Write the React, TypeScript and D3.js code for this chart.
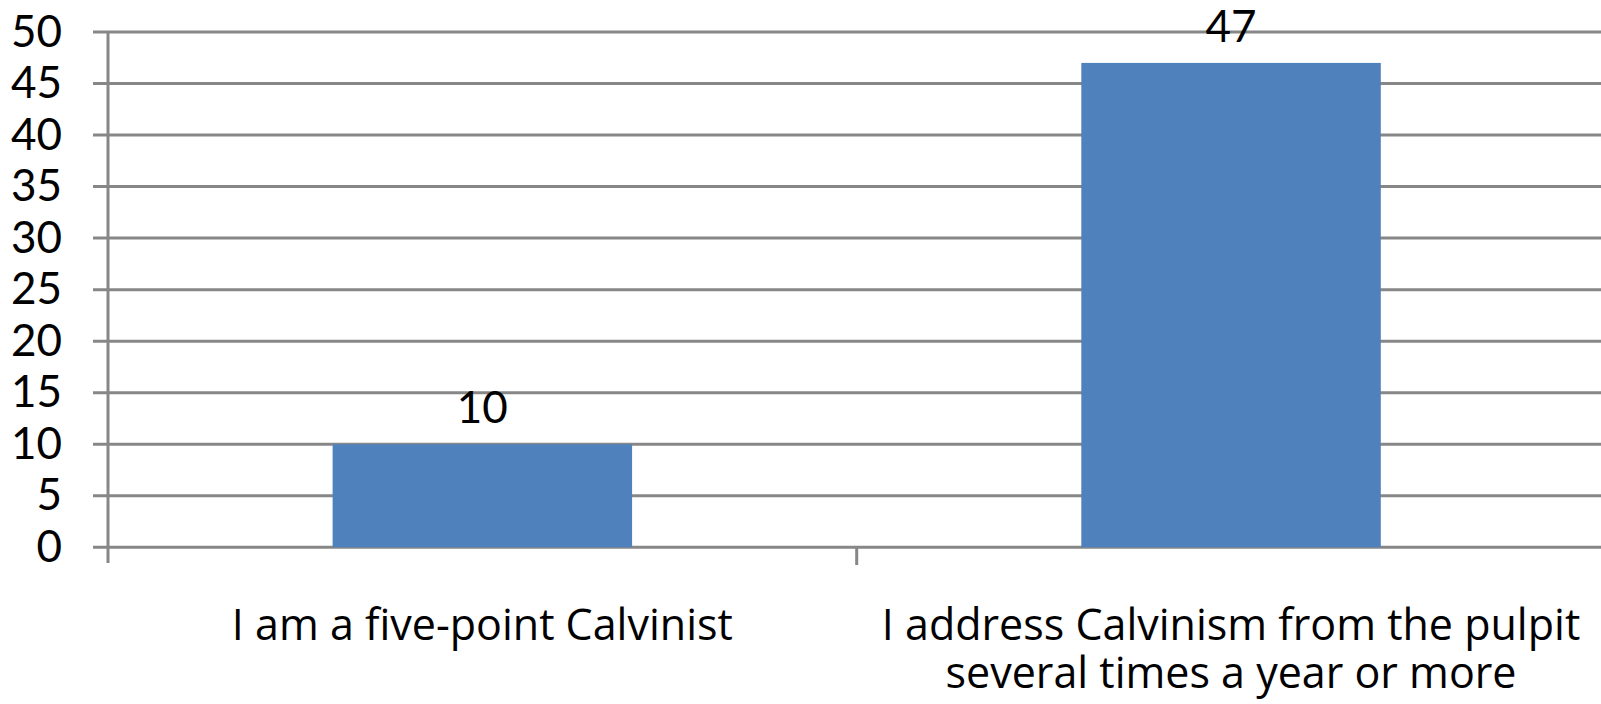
import React from "react";
import * as d3 from "d3";

const categories: string[] = [
  "I am a five-point Calvinist",
  "I address Calvinism from the pulpit several times a year or more",
];
const categoryLines: string[][] = [
  ["I am a five-point Calvinist"],
  ["I address Calvinism from the pulpit", "several times a year or more"],
];
const values: number[] = [10, 47];
const yTicks: number[] = [0, 5, 10, 15, 20, 25, 30, 35, 40, 45, 50];

const W = 1601;
const H = 704;
const FONT = "Lato, 'Open Sans', sans-serif";
const CAT_FONT = "'Open Sans', Lato, sans-serif";

export default function App() {
  const y = d3.scaleLinear().domain([0, 50]).range([547.3, 32]);
  const x = d3
    .scaleBand<string>()
    .domain(categories)
    .range([108, 1605.4])
    .paddingInner(0.6)
    .paddingOuter(0.3);
  const step = x.step();
  const grid = "#878787";
  const boundaries = categories.map((c) => (x(c) as number) - x.paddingOuter() * step);

  return (
    <svg
      width={W}
      height={H}
      style={{ position: "absolute", left: 0, top: 0, background: "#fff" }}
    >
      {yTicks.map((t) => (
        <line key={"g" + t} x1={93} x2={W} y1={y(t)} y2={y(t)} stroke={grid} strokeWidth={3} />
      ))}
      {yTicks.map((t) => (
        <text
          key={"t" + t}
          x={62}
          y={y(t)}
          dy="0.33em"
          textAnchor="end"
          fontFamily={FONT}
          fontSize={44}
          fill="#000"
        >
          {t}
        </text>
      ))}
      {categories.map((c, i) => (
        <rect
          key={"b" + i}
          x={x(c)}
          y={y(values[i])}
          width={x.bandwidth()}
          height={y(0) - y(values[i])}
          fill="#4F81BD"
        />
      ))}
      <line x1={108} x2={108} y1={y(50)} y2={563} stroke={grid} strokeWidth={3} />
      {boundaries.slice(1).map((bx, i) => (
        <line key={"ct" + i} x1={bx} x2={bx} y1={y(0)} y2={565} stroke={grid} strokeWidth={3} />
      ))}
      {categories.map((c, i) => (
        <text
          key={"v" + i}
          x={(x(c) as number) + x.bandwidth() / 2}
          y={y(values[i]) - 21}
          textAnchor="middle"
          fontFamily={FONT}
          fontSize={44}
          fill="#000"
        >
          {values[i]}
        </text>
      ))}
      {categories.map((c, i) => (
        <text
          key={"c" + i}
          textAnchor="middle"
          fontFamily={CAT_FONT}
          fontSize={43}
          fill="#000"
        >
          {categoryLines[i].map((ln, j) => (
            <tspan key={j} x={(x(c) as number) + x.bandwidth() / 2} y={640 + j * 48}>
              {ln}
            </tspan>
          ))}
        </text>
      ))}
    </svg>
  );
}
